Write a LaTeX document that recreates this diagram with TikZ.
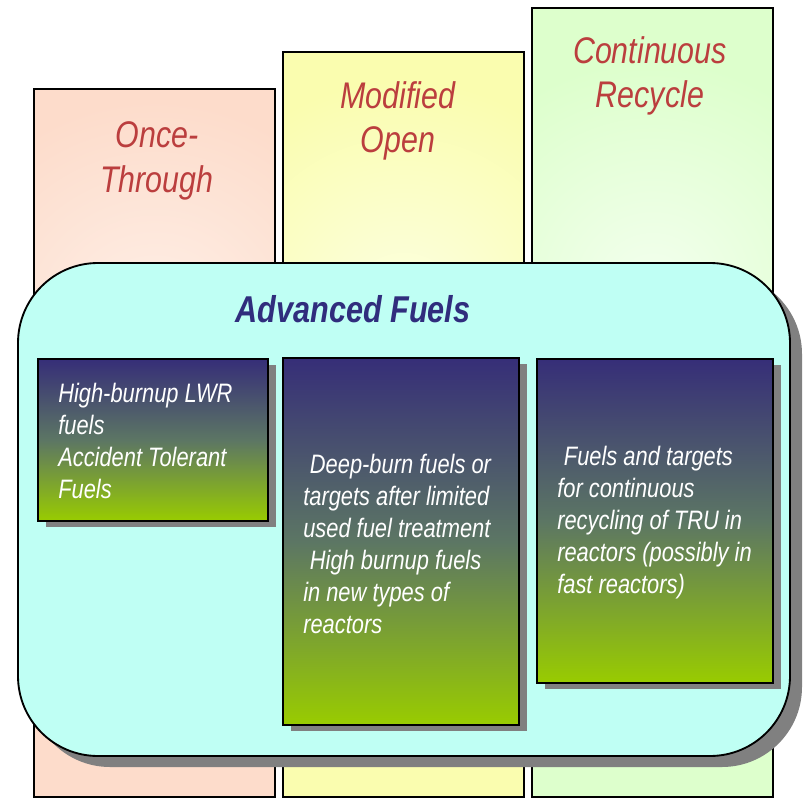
\documentclass[tikz,border=0pt]{standalone}
\usepackage{fontspec}
\setmainfont{Liberation Sans}[FakeStretch=0.82]
\definecolor{coltext}{RGB}{187,62,62}
\definecolor{titleblue}{RGB}{48,45,125}
\definecolor{peach}{RGB}{253,220,203}
\definecolor{peachlight}{RGB}{254,240,232}
\definecolor{yel}{RGB}{250,253,175}
\definecolor{yellight}{RGB}{252,255,225}
\definecolor{grn}{RGB}{221,255,204}
\definecolor{grnlight}{RGB}{243,255,238}
\definecolor{cyanfill}{RGB}{191,255,244}
\definecolor{shadowgray}{RGB}{128,128,128}
\definecolor{fueltop}{RGB}{54,46,120}
\definecolor{fuelmid}{RGB}{92,118,100}
\definecolor{fuelbot}{RGB}{153,204,0}
\begin{document}
\begin{tikzpicture}[x=0.75pt,y=-0.75pt,
  colborder/.style={draw=black,line width=1.6pt},
  coltitle/.style={text=coltext,font=\fontsize{27.8}{33.5}\selectfont\itshape,align=center,inner sep=0pt},
  fuelshade/.style={top color=fueltop,bottom color=fuelbot,middle color=fuelmid},
  fuelborder/.style={draw=black,line width=1.4pt},
  fueltext/.style={text=white,font=\fontsize{20}{24}\selectfont\itshape,align=left,inner sep=0pt,anchor=west},
  bigtitle/.style={text=titleblue,font=\fontsize{28}{32}\selectfont\bfseries\itshape,inner sep=0pt}]
\useasboundingbox (0,0) rectangle (803,799);
% columns
\begin{scope}
\clip (34,89) rectangle (275,797);
\fill[peach] (34,89) rectangle (275,797);
\shade[inner color=peachlight,outer color=peach] (154.5,330) circle (230);
\end{scope}
\draw[colborder] (34,89) rectangle (275,797);
\begin{scope}
\clip (283,52) rectangle (524,797);
\fill[yel] (283,52) rectangle (524,797);
\shade[inner color=yellight,outer color=yel] (403.5,310) circle (230);
\end{scope}
\draw[colborder] (283,52) rectangle (524,797);
\begin{scope}
\clip (532,8) rectangle (773,797);
\fill[grn] (532,8) rectangle (773,797);
\shade[inner color=grnlight,outer color=grn] (652.5,290) circle (230);
\end{scope}
\draw[colborder] (532,8) rectangle (773,797);
\node[coltitle] (once) at (157,161) {Once-\\Through};
\node[coltitle] (modified) at (398,121) {Modified\\Open};
\node[coltitle] (continuous) at (650,76) {Continuous\\Recycle};
% advanced fuels panel
\fill[shadowgray,rounded corners=60pt] (30,274) rectangle (802,767);
\draw[fill=cyanfill,line width=1.4pt,rounded corners=60pt] (18,263) rectangle (790,756);
\node[bigtitle] (adv) at (353,309) {Advanced Fuels};
% fuel boxes
\fill[shadowgray] (46,365) rectangle (276,527);
\shade[fuelshade] (38,359) rectangle (268,521);
\draw[fuelborder] (38,359) rectangle (268,521);
\fill[shadowgray] (291,364) rectangle (527,731);
\shade[fuelshade] (283,358) rectangle (519,725);
\draw[fuelborder] (283,358) rectangle (519,725);
\fill[shadowgray] (545,365) rectangle (781,689);
\shade[fuelshade] (537,359) rectangle (773,683);
\draw[fuelborder] (537,359) rectangle (773,683);
\node[fueltext] (lwr) at (58,441) {High-burnup LWR\\fuels\\Accident Tolerant\\Fuels};
\node[fueltext] (deep) at (303,544) {\hspace*{5pt}Deep-burn fuels or\\targets after limited\\used fuel treatment\\\hspace*{5pt}High burnup fuels\\in new types of\\reactors};
\node[fueltext] (tru) at (557,523) {\hspace*{5pt}Fuels and targets\\for continuous\\recycling of TRU in\\reactors (possibly in\\fast reactors)};
\end{tikzpicture}
\end{document}
